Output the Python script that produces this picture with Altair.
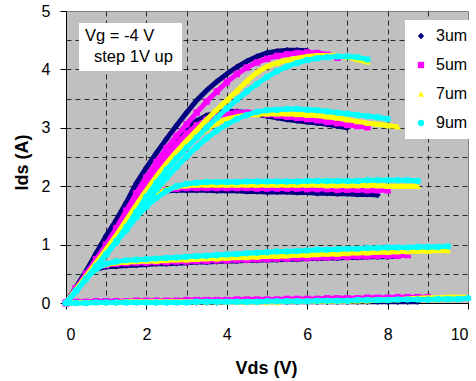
import altair as alt
import pandas as pd

# Drain voltage sweep points (V)
VDS = [0.0, 0.25, 0.5, 0.75, 1.0, 1.25, 1.5, 1.75, 2.0, 2.25, 2.5, 2.75, 3.0, 3.25,
       3.5, 3.75, 4.0, 4.25, 4.5, 4.75, 5.0, 5.25, 5.5, 5.75, 6.0, 6.25, 6.5, 6.75,
       7.0, 7.25, 7.5, 7.75, 8.0, 8.25, 8.5, 8.75, 9.0, 9.25, 9.5, 9.75, 10.0]

SERIES = ["3um", "5um", "7um", "9um"]
COLORS = ["#000080", "#FF00FF", "#FFFF00", "#00FFFF"]
SHAPES = ["diamond", "square", "triangle-up", "circle"]

# Drain current (A) per gate voltage, one list per Vg, sampled on VDS
IDS_3UM = {
    0: [0, .27, .55, .85, 1.15, 1.42, 1.72, 2.05, 2.32, 2.57, 2.81, 3.04, 3.26, 3.47, 3.64,
        3.79, 3.92, 4.04, 4.14, 4.22, 4.28, 4.31, 4.33, 4.33, 4.32],
    -1: [0, .26, .52, .8, 1.08, 1.36, 1.63, 1.9, 2.15, 2.4, 2.62, 2.82, 2.99, 3.12, 3.21,
         3.26, 3.28, 3.28, 3.26, 3.23, 3.2, 3.17, 3.14, 3.12, 3.1, 3.08, 3.06, 3.03, 3.0],
    -2: [0, .25, .5, .76, 1.02, 1.27, 1.5, 1.68, 1.81, 1.88, 1.92, 1.93, 1.93, 1.93, 1.93,
         1.92, 1.92, 1.92, 1.91, 1.91, 1.9, 1.9, 1.9, 1.89, 1.89, 1.88, 1.88, 1.87, 1.87,
         1.86, 1.86, 1.85],
    -3: [0, .26, .47, .58, .62, .63, .64, .65, .66, .67, .67, .68, .69, .7, .7, .71, .72,
         .72, .73, .73, .74, .74, .75, .75, .76, .76, .77, .77, .78, .78, .79, .79, .79, .8],
    -4: [0, .01, .01, .01, .01, .01, .01, .01, .01, .01, .01, .01, .01, .01, .01, .01, .02,
         .02, .02, .02, .02, .02, .02, .02, .02, .02, .02, .02, .02, .02, .02, .02, .02, .02,
         .02, .02],
}
IDS_5UM = {
    0: [0, .25, .5, .75, 1.0, 1.28, 1.58, 1.88, 2.15, 2.41, 2.65, 2.86, 3.06, 3.26, 3.45,
        3.62, 3.78, 3.92, 4.03, 4.12, 4.18, 4.23, 4.26, 4.28, 4.29, 4.28, 4.25, 4.2],
    -1: [0, .24, .49, .74, .99, 1.26, 1.53, 1.8, 2.05, 2.3, 2.52, 2.72, 2.9, 3.04, 3.14,
         3.2, 3.24, 3.26, 3.26, 3.25, 3.23, 3.21, 3.19, 3.17, 3.15, 3.13, 3.1, 3.08, 3.05,
         3.03, 3.01],
    -2: [0, .24, .48, .73, .97, 1.21, 1.43, 1.62, 1.77, 1.87, 1.93, 1.96, 1.97, 1.97, 1.97,
         1.97, 1.97, 1.97, 1.97, 1.96, 1.96, 1.96, 1.96, 1.96, 1.95, 1.95, 1.95, 1.94, 1.94,
         1.94, 1.93, 1.93, 1.93],
    -3: [0, .25, .47, .6, .65, .67, .68, .69, .69, .7, .7, .71, .71, .72, .72, .73, .73,
         .74, .74, .75, .75, .76, .76, .77, .77, .78, .78, .79, .79, .8, .8, .81, .81, .81,
         .82],
    -4: [0, .02, .02, .03, .03, .03, .03, .04, .04, .04, .04, .04, .05, .05, .05, .05, .05,
         .06, .06, .06, .06, .06, .07, .07, .07, .07, .08, .08, .08, .08, .09, .09, .09, .1,
         .1, .1, .1],
}
IDS_7UM = {
    0: [0, .23, .46, .69, .92, 1.16, 1.42, 1.68, 1.93, 2.17, 2.39, 2.59, 2.78, 2.96, 3.14,
        3.31, 3.47, 3.63, 3.8, 3.95, 4.05, 4.11, 4.16, 4.19, 4.22, 4.24, 4.24, 4.23, 4.21,
        4.17, 4.13],
    -1: [0, .22, .45, .68, .91, 1.15, 1.39, 1.63, 1.86, 2.08, 2.3, 2.5, 2.69, 2.85, 2.98,
         3.08, 3.15, 3.19, 3.22, 3.23, 3.24, 3.24, 3.24, 3.23, 3.22, 3.21, 3.19, 3.17, 3.14,
         3.11, 3.08, 3.06, 3.04, 3.02],
    -2: [0, .22, .45, .68, .9, 1.13, 1.35, 1.55, 1.72, 1.85, 1.94, 1.99, 2.01, 2.02, 2.02,
         2.02, 2.02, 2.02, 2.02, 2.02, 2.02, 2.02, 2.02, 2.02, 2.02, 2.02, 2.01, 2.01, 2.01,
         2.01, 2.01, 2.01, 2.0, 2.0, 2.0, 2.0],
    -3: [0, .23, .45, .6, .66, .69, .7, .71, .72, .72, .73, .74, .74, .75, .76, .76, .77,
         .78, .78, .79, .8, .8, .81, .82, .82, .83, .84, .84, .85, .86, .86, .87, .87, .88,
         .88, .89, .89, .9, .9],
    -4: [0, .01, .01, .01, .01, .01, .02, .02, .02, .02, .02, .02, .02, .02, .02, .02, .02,
         .02, .02, .02, .02, .02, .03, .03, .03, .03, .03, .03, .03, .04, .04, .05, .05, .06,
         .07, .08, .09, .09, .1, .1, .1],
}
IDS_9UM = {
    0: [0, .21, .42, .63, .84, 1.06, 1.3, 1.56, 1.82, 2.06, 2.28, 2.48, 2.66, 2.83, 3.0,
        3.17, 3.33, 3.48, 3.62, 3.75, 3.87, 3.97, 4.05, 4.11, 4.16, 4.19, 4.21, 4.22, 4.22,
        4.21, 4.17],
    -1: [0, .2, .41, .62, .83, 1.05, 1.27, 1.5, 1.72, 1.94, 2.14, 2.33, 2.51, 2.67, 2.82,
         2.95, 3.06, 3.15, 3.22, 3.27, 3.3, 3.31, 3.32, 3.32, 3.31, 3.3, 3.28, 3.26, 3.24,
         3.22, 3.2, 3.18, 3.15],
    -2: [0, .2, .41, .62, .83, 1.04, 1.25, 1.47, 1.65, 1.8, 1.92, 2.0, 2.04, 2.06, 2.07,
         2.07, 2.07, 2.07, 2.08, 2.08, 2.08, 2.08, 2.08, 2.08, 2.09, 2.09, 2.09, 2.09, 2.09,
         2.09, 2.1, 2.1, 2.1, 2.1, 2.1, 2.09],
    -3: [0, .21, .42, .58, .67, .71, .73, .74, .75, .76, .77, .78, .79, .8, .81, .82, .83,
         .84, .85, .86, .87, .88, .88, .89, .9, .91, .91, .92, .93, .93, .94, .94, .95, .95,
         .95, .96, .96, .96, .97],
    -4: [0, 0, 0, .01, .01, .01, .01, .01, .01, .01, .01, .01, .01, .02, .02, .02, .02, .02,
         .02, .02, .03, .03, .03, .03, .03, .04, .04, .04, .04, .05, .05, .05, .05, .06, .06,
         .06, .06, .07, .07, .07, .08],
}

X_GRID = [0, 1, 2, 3, 4, 5, 6, 7, 8, 9, 10]
Y_GRID = [0, 0.5, 1, 1.5, 2, 2.5, 3, 3.5, 4, 4.5, 5]
NOTE_LINES = ["Vg = -4 V", "step 1V up"]

FONT = "Liberation Sans"

rows = []
for name, curves in zip(SERIES, [IDS_3UM, IDS_5UM, IDS_7UM, IDS_9UM]):
    for vg, ids in curves.items():
        for v, i in zip(VDS, ids):
            rows.append({"series": name, "vg": vg, "vds": v, "ids": i})
df = pd.DataFrame(rows)

x_enc = alt.X(
    "vds:Q",
    scale=alt.Scale(domain=[0, 10], nice=False),
    axis=alt.Axis(
        values=X_GRID,
        title="Vds (V)",
        titleFontSize=18, titleFontWeight="bold", titleFont=FONT, titleColor="black",
        titleX=200, titleY=65, titleAlign="center", titleBaseline="middle",
        labelFontSize=16, labelFont=FONT, labelColor="black", labelPadding=17,
        labelExpr="datum.value % 2 === 0 ? '' + datum.value : ''",
        tickSize=6, tickColor="black",
        tickOpacity={"condition": {"test": "datum.value % 2 === 0", "value": 1}, "value": 0},
        domainColor="black",
        grid=True, gridColor="#000000", gridDash=[5, 4], gridWidth=1,
        gridOpacity={"condition": {"test": "datum.value > 0 && datum.value < 10", "value": 0.8},
                     "value": 0},
    ),
)
y_enc = alt.Y(
    "ids:Q",
    scale=alt.Scale(domain=[0, 5], nice=False),
    axis=alt.Axis(
        values=Y_GRID,
        title="Ids (A)",
        titleFontSize=18, titleFontWeight="bold", titleFont=FONT, titleColor="black",
        titleAngle=270, titleX=-44, titleY=151, titleAlign="center", titleBaseline="middle",
        labelFontSize=16, labelFont=FONT, labelColor="black", labelPadding=10,
        labelBaseline="middle",
        labelExpr="datum.value % 1 === 0 ? '' + datum.value : ''",
        tickSize=6, tickColor="black",
        tickOpacity={"condition": {"test": "datum.value % 1 === 0", "value": 1}, "value": 0},
        domainColor="black",
        grid=True, gridColor="#000000", gridDash=[5, 4], gridWidth=1,
        gridOpacity={"condition": {"test": "datum.value > 0 && datum.value < 5", "value": 0.8},
                     "value": 0},
    ),
)

color_enc = alt.Color(
    "series:N",
    scale=alt.Scale(domain=SERIES, range=COLORS),
    title=None,
    legend=alt.Legend(
        orient="none", legendX=339, legendY=9, fillColor="white", padding=8,
        rowPadding=13, labelFontSize=16, labelFont=FONT, labelColor="black",
        labelOffset=7, symbolSize=40, symbolStrokeWidth=0,
    ),
)
shape_enc = alt.Shape(
    "series:N",
    scale=alt.Scale(domain=SERIES, range=SHAPES),
    title=None,
)

base = alt.Chart(df)
layers = []
for name, col in zip(SERIES, COLORS):
    sub = base.transform_filter(alt.datum.series == name)
    layers.append(
        sub.mark_line(strokeWidth=5, color=col).encode(
            x=x_enc, y=y_enc, detail="vg:N", order="vds:Q"
        )
    )
    layers.append(
        sub.mark_point(filled=True, size=42, opacity=1, strokeWidth=0).encode(
            x=x_enc, y=y_enc, color=color_enc, shape=shape_enc
        )
    )

note = alt.Chart(pd.DataFrame({"note": NOTE_LINES}))
note_box = note.transform_filter(alt.datum.note == NOTE_LINES[0]).mark_rect(
    fill="white"
).encode(x=alt.value(13), x2=alt.value(116), y=alt.value(12), y2=alt.value(60))
note_l1 = note.transform_filter(alt.datum.note == NOTE_LINES[0]).mark_text(
    align="left", baseline="middle", fontSize=16.5, font=FONT, color="black"
).encode(x=alt.value(19), y=alt.value(25), text="note:N")
note_l2 = note.transform_filter(alt.datum.note == NOTE_LINES[1]).mark_text(
    align="left", baseline="middle", fontSize=16.5, font=FONT, color="black"
).encode(x=alt.value(28), y=alt.value(46), text="note:N")

chart = alt.layer(*layers, note_box, note_l1, note_l2).properties(
    width=402,
    height=292,
    padding={"left": 66, "top": 11, "right": 8, "bottom": 78},
    autosize=alt.AutoSizeParams(type="none"),
).configure(
    background="white", font=FONT
).configure_view(
    fill="#C0C0C0", stroke="#808080", strokeWidth=1
)

chart.save("out.html", embed_options={"renderer": "svg", "actions": False})
